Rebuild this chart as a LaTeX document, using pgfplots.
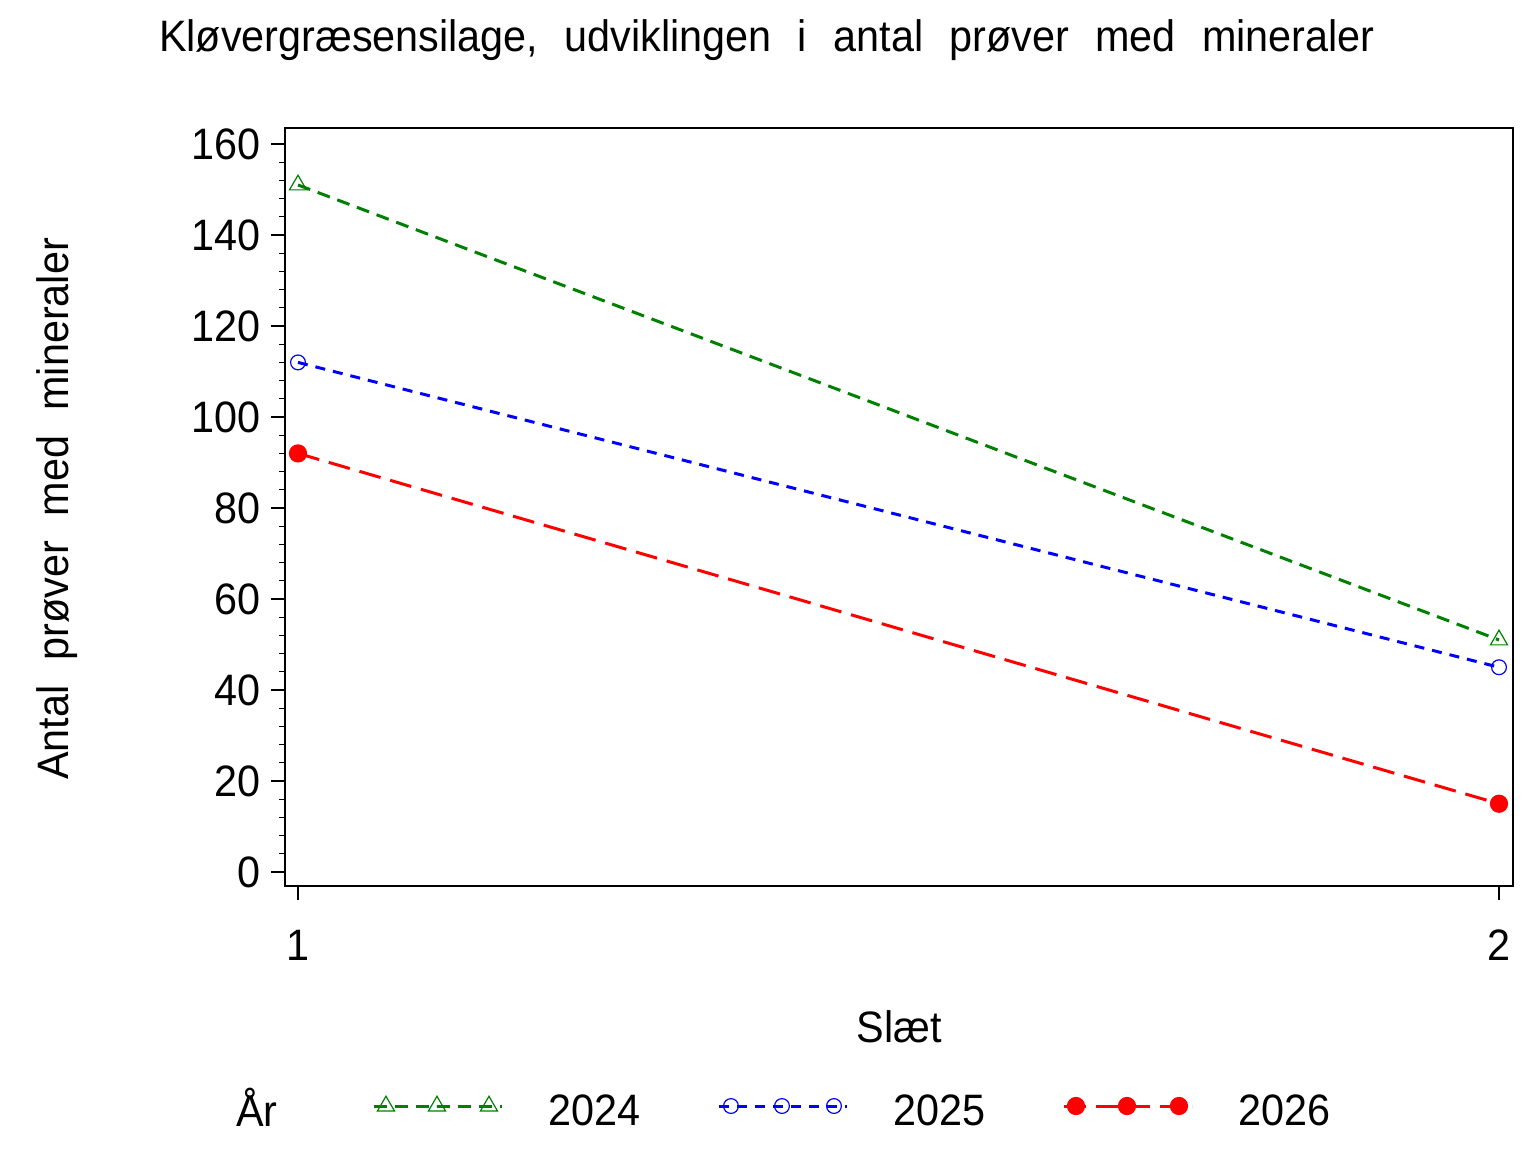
\documentclass[border=0pt]{standalone}
\usepackage{fontspec}
\setmainfont{Liberation Sans}[FakeStretch=0.94]
\usepackage{pgfplots}
\pgfplotsset{compat=1.18}
\definecolor{sasgreen}{RGB}{0,128,0}
\definecolor{sasblue}{RGB}{0,0,255}
\definecolor{sasred}{RGB}{255,0,0}
\begin{document}
\fontsize{22bp}{26bp}\selectfont
\begin{tikzpicture}
\useasboundingbox (0,0) rectangle (768bp,576bp);
\begin{axis}[
  at={(142.5bp,133bp)}, anchor=south west,
  scale only axis, width=614bp, height=379bp,
  xmin=0.98918, xmax=2.01166, ymin=-3.077, ymax=163.52,
  xtick={1,2}, ytick={0,20,...,160}, minor y tick num=4,
  tick align=outside, tick pos=left,
  major tick length=7bp, minor tick length=3bp,
  tick style={line width=0.6bp, black},
  axis line style={line width=0.6bp},
  /pgf/number format/assume math mode=true,
  ticklabel style={font=\fontsize{22bp}{26bp}\selectfont},
  yticklabel style={xshift=2.5bp},
  xticklabel style={yshift=-7.5bp},
  legend columns=3,
  legend style={at={(0.0709,-0.2995)}, anchor=west, draw=none, fill=none,
    inner sep=0pt, nodes={inner sep=0pt},
    /tikz/every odd column/.append style={column sep=22.5bp},
    /tikz/every even column/.append style={column sep=38.5bp},
    font=\fontsize{22bp}{26bp}\selectfont},
  legend image code/.code={\draw[#1, mark indices={2,3,4}] plot coordinates {(0bp,3.5bp) (6bp,3.5bp) (31.5bp,3.5bp) (57.5bp,3.5bp) (64bp,3.5bp)};},
]
\addplot[sasgreen, line width=1.5bp, dash pattern=on 6.5bp off 4bp, mark=triangle, mark size=4.9bp, mark options={solid, line width=0.6bp}]
  coordinates {(1,151) (2,51)};
\addlegendentry{2024}
\addplot[sasblue, line width=1.5bp, dash pattern=on 5bp off 4bp, mark=o, mark size=3.7bp, mark options={solid, line width=0.6bp}]
  coordinates {(1,112) (2,45)};
\addlegendentry{2025}
\addplot[sasred, line width=1.5bp, dash pattern=on 11bp off 5bp, mark=*, mark size=3.8bp, mark options={solid, fill=sasred}]
  coordinates {(1,92) (2,15)};
\addlegendentry{2026}
\end{axis}
\node[anchor=base, inner sep=0pt] at (383.5bp,550bp) {\spaceskip=0.6em\relax Kløvergræsensilage, udviklingen i antal prøver med mineraler};
\node[anchor=base, inner sep=0pt, rotate=90] at (34bp,321.5bp) {\spaceskip=0.57em\relax Antal prøver med mineraler};
\node[anchor=base, inner sep=0pt] at (449.5bp,54.5bp) {Slæt};
\node[anchor=base, inner sep=0pt] at (128.5bp,13bp) {År};
\end{tikzpicture}
\end{document}
